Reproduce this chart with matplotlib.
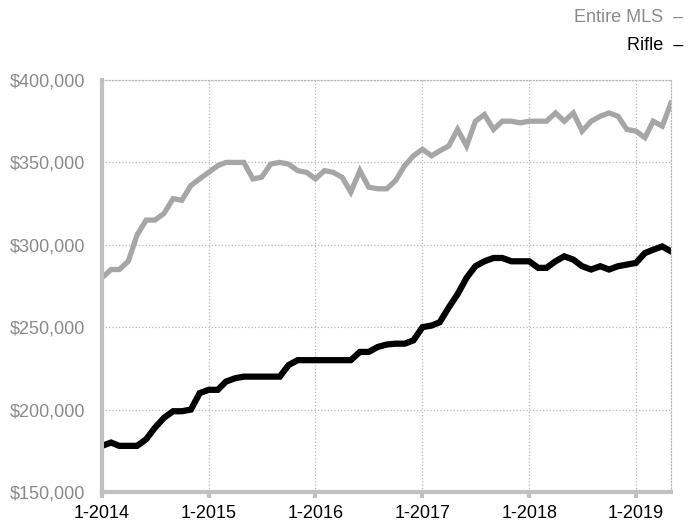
import matplotlib
matplotlib.use('Agg')
import matplotlib.pyplot as plt
import pandas as pd

plt.rcParams['font.family'] = ['Liberation Sans', 'DejaVu Sans']

# monthly values, Jan 2014 .. May 2019 (in $1000s)
months = pd.date_range('2014-01-01', periods=65, freq='MS')

entire_mls = [280, 285, 285, 290, 306, 315, 315, 319, 328, 327,
              336, 340, 344, 348, 350, 350, 350, 340, 341, 349,
              350, 349, 345, 344, 340, 345, 344, 341, 332, 345,
              335, 334, 334, 339, 348, 354, 358, 354, 357, 360,
              370, 360, 375, 379, 370, 375, 375, 374, 375, 375,
              375, 380, 375, 380, 369, 375, 378, 380, 378, 370,
              369, 365, 375, 372, 386]

rifle = [178, 180, 178, 178, 178, 182, 189, 195, 199, 199,
         200, 210, 212, 212, 217, 219, 220, 220, 220, 220,
         220, 227, 230, 230, 230, 230, 230, 230, 230, 235,
         235, 238, 239.5, 240, 240, 242, 250, 251, 253, 262,
         270, 280, 287, 290, 292, 292, 290, 290, 290, 286,
         286, 290, 293, 291, 287, 285, 287, 285, 287, 288,
         289, 295, 297, 299, 296]

year_labels = ['1-2014', '1-2015', '1-2016', '1-2017', '1-2018', '1-2019']
year_ticks = pd.to_datetime(['2014-01-01', '2015-01-01', '2016-01-01',
                             '2017-01-01', '2018-01-01', '2019-01-01'])
y_ticks = [150, 200, 250, 300, 350, 400]

fig = plt.figure(figsize=(6.89, 5.25), dpi=100)
ax = fig.add_axes([102 / 689, 1 - 492 / 525, 569 / 689, 412 / 525])

ax.plot(months, entire_mls, color='#a6a6a6', lw=3.8, solid_joinstyle='miter')
ax.plot(months, rifle, color='black', lw=4.5, solid_joinstyle='miter')

ax.set_xlim(months[0], months[-1])
ax.set_ylim(150, 400)

ax.set_yticks(y_ticks)
ax.set_yticklabels(['${:,}'.format(v * 1000) for v in y_ticks],
                   color='#8a8a8a', fontsize=13)
ax.set_xticks(year_ticks)
ax.set_xticklabels(year_labels, fontsize=13, color='black')

ax.tick_params(axis='y', length=0, pad=12)
ax.tick_params(axis='x', length=4, width=3, color='#c0c0c0', pad=5)

ax.grid(True, linestyle=':', color='#b8b8b8', lw=0.9)
for s in ['left', 'bottom']:
    ax.spines[s].set_color('#c0c0c0')
    ax.spines[s].set_linewidth(3)
for s in ['top', 'right']:
    ax.spines[s].set_color('#b8b8b8')
    ax.spines[s].set_linestyle(':')
    ax.spines[s].set_linewidth(0.9)
ax.set_axisbelow(True)

# legend drawn as text lines at the top right
fig.text(683 / 689, 1 - 17 / 525, 'Entire MLS  \u2013', ha='right', va='center',
         fontsize=13, color='#8a8a8a')
fig.text(683 / 689, 1 - 46 / 525, 'Rifle  \u2013', ha='right', va='center',
         fontsize=13, color='black')

# title, mostly cut off at the top edge of the picture
fig.text(8 / 689, 1 + 4 / 525, 'Trailing', ha='left', va='baseline',
         fontsize=13, color='black')
fig.text(143 / 689, 1 + 4 / 525, '12 Month Average', ha='left', va='baseline',
         fontsize=13, color='#8a8a8a')

fig.savefig('out.png', dpi=100)
